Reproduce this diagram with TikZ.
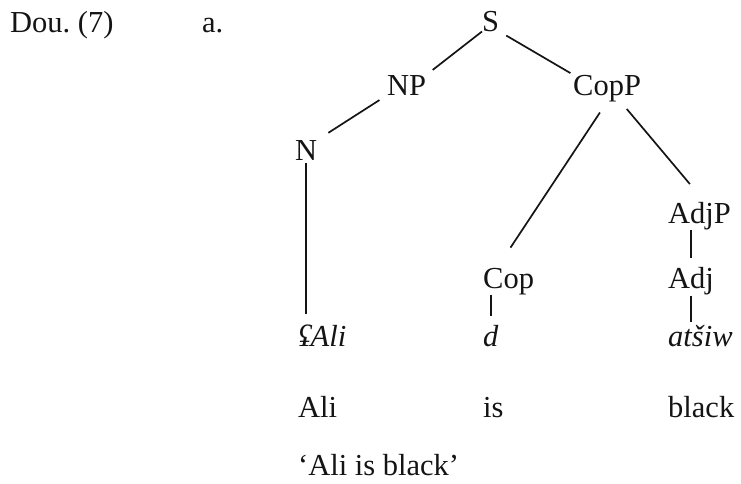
\documentclass[tikz,border=0pt]{standalone}
\usepackage{fontspec}
\setmainfont{Liberation Serif}
\definecolor{TreeInk}{HTML}{141414}
\newcommand{\treesize}{\fontsize{30.5}{36}\selectfont}
\tikzset{
  branch/.style={line width=1.7pt, draw=TreeInk},
  cat/.style={inner sep=0pt, anchor=base west, text=TreeInk},
  word/.style={cat, font=\treesize\itshape},
}

\begin{document}
\begin{tikzpicture}[x=1pt,y=-1pt,font=\treesize]
        \useasboundingbox (0,0) rectangle (741,483);
        \node[cat] (ex) at (10,32) {Dou.\ (7)};
        \node[cat] (sub) at (202,32) {a.};
        % categories
        \node[cat] (S) at (482,31) {S};
        \node[cat] (NP) at (387,95) {NP};
        \node[cat] (CopP) at (573,95) {CopP};
        \node[cat] (N) at (295,160) {N};
        \node[cat] (AdjP) at (668,223) {AdjP};
        \node[cat] (Cop) at (483,288) {Cop};
        \node[cat] (Adj) at (668,288) {Adj};
        % words, glosses, translation
        \node[word] (ali) at (298,346) {ʢAli};
        \node[word] (d) at (483,346) {d};
        \node[word] (atsiw) at (668,346) {atšiw};
        \node[cat] (gAli) at (298,417) {Ali};
        \node[cat] (gis) at (483,417) {is};
        \node[cat] (gblack) at (668,417) {black};
        \node[cat] (transl) at (298,475) {‘Ali is black’};
        % branches
        \draw[branch, shorten >=8pt] (S.south west) -- (NP.north east);
        \draw[branch, shorten <=8pt, shorten >=3pt] (S.south east) -- (CopP.north west);
        \draw[branch, shorten <=9pt, shorten >=13pt] (NP.south west) -- (N.north east);
        \draw[branch, shorten <=3pt, shorten >=10pt] (N.south) -- (N.south |- ali.north);
        \draw[branch, shorten <=13pt, shorten >=24pt] (CopP.south) -- (Cop.130);
        \draw[branch, shorten <=9.5pt, shorten >=23pt] (CopP.-45) -- (AdjP.70);
        \draw[branch, shorten >=9pt] (Adj.north |- AdjP.south) -- (Adj.north);
        \draw[branch, shorten <=1pt, shorten >=3pt] (Adj.south) -- (Adj.south |- atsiw.north);
        \draw[branch, shorten >=9pt] (d.north |- Cop.south) -- (d.north);
      \end{tikzpicture}
\end{document}
